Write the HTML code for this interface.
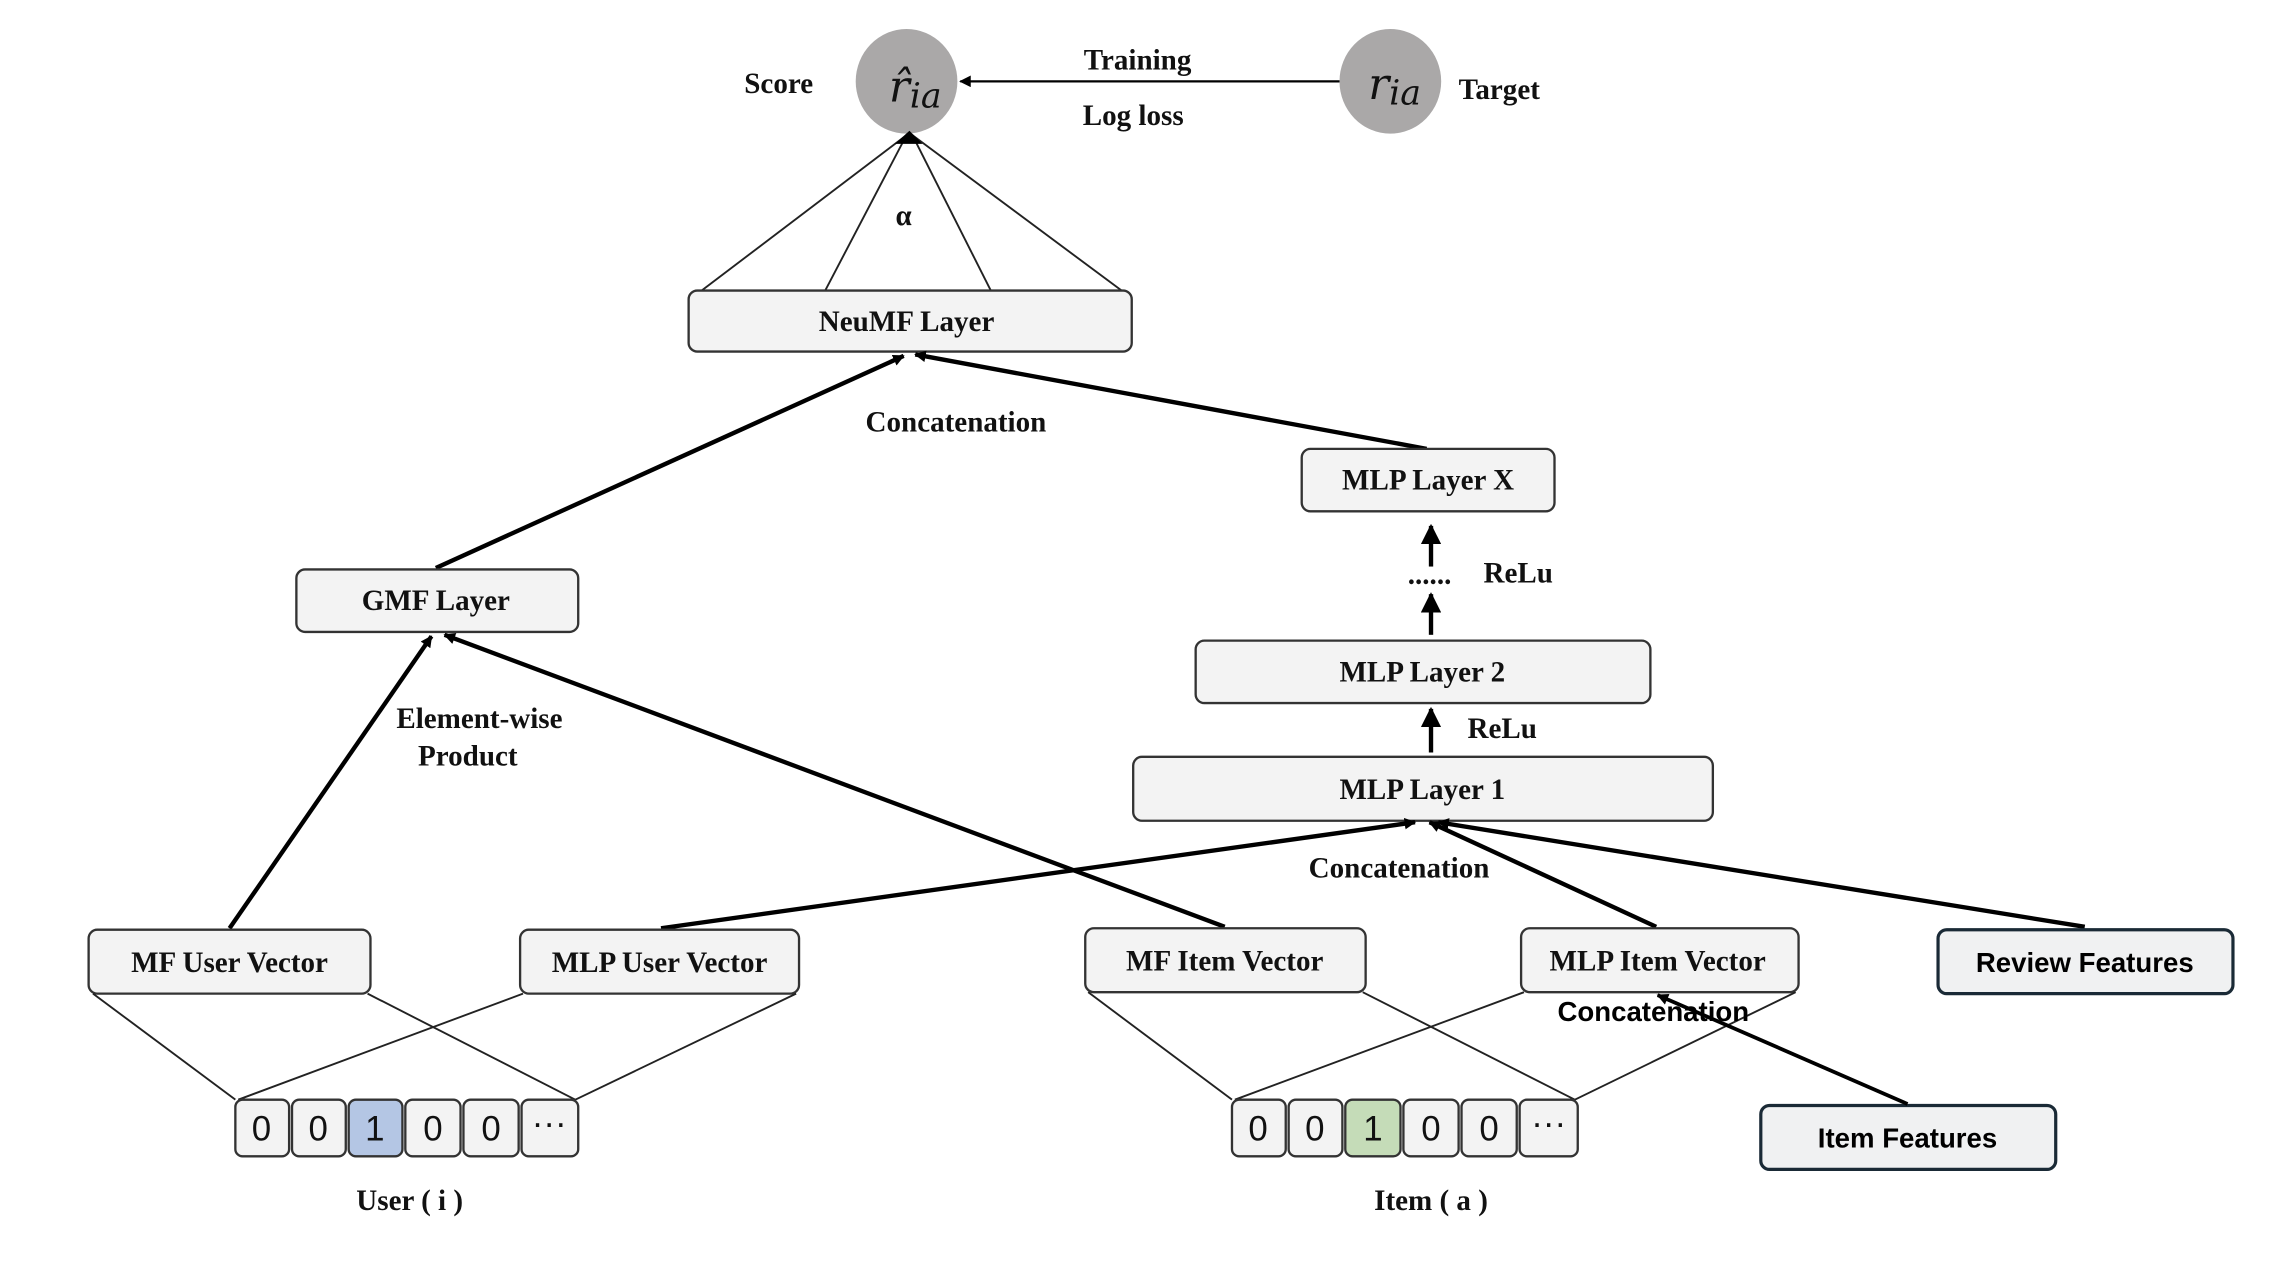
<!DOCTYPE html>
<html><head><meta charset="utf-8"><style>html,body{margin:0;padding:0;background:#fff}svg{display:block}</style></head>
<body>
<svg width="2278" height="1274" viewBox="0 0 1568 877" preserveAspectRatio="none" xmlns="http://www.w3.org/2000/svg">
<defs>
<marker id="b" viewBox="0 0 10 10" refX="9" refY="5" markerWidth="8" markerHeight="8" orient="auto" markerUnits="userSpaceOnUse"><path d="M0,0 L10,5 L0,10 z" fill="#000"/></marker>
<marker id="c" viewBox="0 0 10 10" refX="9" refY="5" markerWidth="14" markerHeight="14" orient="auto" markerUnits="userSpaceOnUse"><path d="M0,0 L10,5 L0,10 z" fill="#000"/></marker>
</defs>
<style>
.t{font-family:"Liberation Serif",serif;font-weight:bold;font-size:20px;fill:#111;text-anchor:middle}
.s{font-family:"Liberation Sans",sans-serif;font-weight:bold;font-size:19px;fill:#000;text-anchor:middle}
.bx{fill:#f3f3f3;stroke:#333;stroke-width:1.6}
.bd{fill:#f0f1f2;stroke:#1a2a36;stroke-width:2.2}
.th{stroke:#222;stroke-width:1.3;fill:none}
.tk{stroke:#000;stroke-width:3;fill:none}
.cl{font-family:"Liberation Sans",sans-serif;font-size:24px;fill:#111;text-anchor:middle}
</style>

<ellipse cx="624" cy="56" rx="35" ry="36" fill="#aaa8a8"/>
<ellipse cx="957" cy="56" rx="35" ry="36" fill="#aaa8a8"/>
<text x="630" y="70" font-family="DejaVu Serif,serif" font-style="italic" font-size="30" text-anchor="middle" fill="#111">r̂<tspan font-size="24" dy="4">ia</tspan></text>
<text x="960" y="68" font-family="DejaVu Serif,serif" font-style="italic" font-size="30" text-anchor="middle" fill="#111">r<tspan font-size="24" dy="4">ia</tspan></text>
<line x1="922" y1="56" x2="661" y2="56" stroke="#000" stroke-width="1.6" marker-end="url(#b)"/>
<text class="t" x="783" y="48">Training</text>
<text class="t" x="780" y="86">Log loss</text>
<text class="t" x="536" y="64">Score</text>
<text class="t" x="1032" y="68">Target</text>

<line class="th" x1="624" y1="93" x2="483" y2="200"/>
<line class="th" x1="624" y1="93" x2="568" y2="200"/>
<line class="th" x1="628" y1="93" x2="682" y2="200"/>
<line class="th" x1="628" y1="93" x2="772" y2="200"/>
<path d="M616,99 L626,90 L635,99 z" fill="#000"/>
<text class="t" x="622" y="155" font-size="17">α</text>

<rect class="bx" x="474" y="200" width="305" height="42" rx="6"/>
<text class="t" x="624" y="228">NeuMF Layer</text>

<line class="tk" x1="300" y1="391" x2="622" y2="245" marker-end="url(#b)"/>
<line class="tk" x1="982" y1="309" x2="630" y2="244" marker-end="url(#b)"/>
<text class="t" x="658" y="297">Concatenation</text>

<rect class="bx" x="204" y="392" width="194" height="43" rx="6"/>
<text class="t" x="300" y="420">GMF Layer</text>

<rect class="bx" x="896" y="309" width="174" height="43" rx="6"/>
<text class="t" x="983" y="337">MLP Layer X</text>

<line class="tk" x1="985" y1="390" x2="985" y2="362" marker-end="url(#c)"/>
<text class="t" x="984" y="402">......</text>
<line class="tk" x1="985" y1="437" x2="985" y2="409" marker-end="url(#c)"/>
<text class="t" x="1045" y="401">ReLu</text>

<rect class="bx" x="823" y="441" width="313" height="43" rx="6"/>
<text class="t" x="979" y="469">MLP Layer 2</text>
<line class="tk" x1="985" y1="518" x2="985" y2="488" marker-end="url(#c)"/>
<text class="t" x="1034" y="508">ReLu</text>

<rect class="bx" x="780" y="521" width="399" height="44" rx="6"/>
<text class="t" x="979" y="550">MLP Layer 1</text>

<text class="t" x="330" y="501">Element-wise</text>
<text class="t" x="322" y="527">Product</text>

<line class="tk" x1="158" y1="639" x2="297" y2="438" marker-end="url(#b)"/>
<line class="tk" x1="843" y1="638" x2="306" y2="437" marker-end="url(#b)"/>
<line class="tk" x1="455" y1="639" x2="974" y2="566" marker-end="url(#b)"/>
<line class="tk" x1="1140" y1="638" x2="984" y2="566" marker-end="url(#b)"/>
<line class="tk" x1="1435" y1="638" x2="990" y2="566" marker-end="url(#b)"/>
<text class="t" x="963" y="604">Concatenation</text>

<rect class="bx" x="61" y="640" width="194" height="44" rx="6"/>
<text class="t" x="158" y="669">MF User Vector</text>
<rect class="bx" x="358" y="640" width="192" height="44" rx="6"/>
<text class="t" x="454" y="669">MLP User Vector</text>
<rect class="bx" x="747" y="639" width="193" height="44" rx="6"/>
<text class="t" x="843" y="668">MF Item Vector</text>
<rect class="bx" x="1047" y="639" width="191" height="44" rx="6"/>
<text class="t" x="1141" y="668">MLP Item Vector</text>
<rect class="bd" x="1334" y="640" width="203" height="44" rx="6"/>
<text class="s" x="1435" y="669">Review Features</text>
<rect class="bd" x="1212" y="761" width="203" height="44" rx="6"/>
<text class="s" x="1313" y="790">Item Features</text>

<line class="th" x1="64" y1="684" x2="162" y2="757"/>
<line class="th" x1="253" y1="684" x2="396" y2="757"/>
<line class="th" x1="360" y1="684" x2="164" y2="757"/>
<line class="th" x1="548" y1="684" x2="396" y2="757"/>
<line class="th" x1="749" y1="683" x2="848" y2="757"/>
<line class="th" x1="938" y1="683" x2="1084" y2="757"/>
<line class="th" x1="1049" y1="683" x2="850" y2="757"/>
<line class="th" x1="1236" y1="683" x2="1084" y2="757"/>

<line x1="1313" y1="760" x2="1141" y2="685" stroke="#000" stroke-width="2.6" marker-end="url(#b)"/>
<text class="s" x="1138" y="703" font-size="14">Concatenation</text>

<g>
<rect class="bx" x="162" y="757" width="37" height="39" rx="5"/>
<rect class="bx" x="201" y="757" width="37" height="39" rx="5"/>
<rect x="240" y="757" width="37" height="39" rx="5" fill="#b4c6e4" stroke="#333" stroke-width="1.6"/>
<rect class="bx" x="279" y="757" width="38" height="39" rx="5"/>
<rect class="bx" x="319" y="757" width="38" height="39" rx="5"/>
<rect class="bx" x="359" y="757" width="39" height="39" rx="5"/>
<text class="cl" x="180" y="785">0</text><text class="cl" x="219" y="785">0</text><text class="cl" x="258" y="785">1</text><text class="cl" x="298" y="785">0</text><text class="cl" x="338" y="785">0</text><text class="cl" x="378" y="781" font-size="18">···</text>
</g>
<g>
<rect class="bx" x="848" y="757" width="37" height="39" rx="5"/>
<rect class="bx" x="887" y="757" width="37" height="39" rx="5"/>
<rect x="926" y="757" width="38" height="39" rx="5" fill="#c5dcb8" stroke="#333" stroke-width="1.6"/>
<rect class="bx" x="966" y="757" width="38" height="39" rx="5"/>
<rect class="bx" x="1006" y="757" width="38" height="39" rx="5"/>
<rect class="bx" x="1046" y="757" width="40" height="39" rx="5"/>
<text class="cl" x="866" y="785">0</text><text class="cl" x="905" y="785">0</text><text class="cl" x="945" y="785">1</text><text class="cl" x="985" y="785">0</text><text class="cl" x="1025" y="785">0</text><text class="cl" x="1066" y="781" font-size="18">···</text>
</g>
<text class="t" x="282" y="833">User ( i )</text>
<text class="t" x="985" y="833">Item ( a )</text>
</svg>
</body></html>
